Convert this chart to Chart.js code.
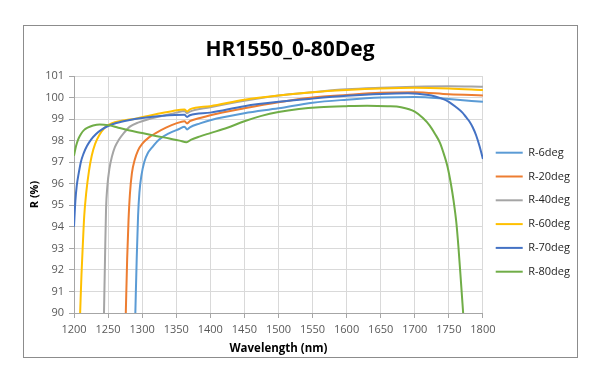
<!DOCTYPE html>
<html>
<head>
<meta charset="utf-8">
<title>HR1550_0-80Deg</title>
<script src="https://cdn.jsdelivr.net/npm/chart.js@4.4.1/dist/chart.umd.min.js"></script>
<style>
  body { margin: 0; background: #fff; }
  #wrap { position: relative; width: 600px; height: 383px; }
  #frame { position: absolute; left: 23px; top: 25px; width: 553px; height: 331px; border: 1px solid #8c8c8c; }
  #chart { position: absolute; left: 0; top: 0; }
</style>
</head>
<body>
<div id="wrap">
  <div id="frame"></div>
  <canvas id="chart" width="600" height="383"></canvas>
</div>
<script>
// data (wavelength nm, R %)
const seriesNames = ['R-6deg', 'R-20deg', 'R-40deg', 'R-60deg', 'R-70deg', 'R-80deg'];
const seriesColors = ['#5B9BD5', '#ED7D31', '#A5A5A5', '#FFC000', '#4472C4', '#70AD47'];

const wl6 = [1290, 1292, 1294, 1296, 1299, 1303, 1308, 1315, 1325, 1340, 1355, 1362, 1366, 1370, 1385, 1400, 1450, 1500, 1550, 1600, 1650, 1700, 1750, 1800];
const r6  = [90, 92.5, 94.5, 95.6, 96.4, 97.0, 97.4, 97.7, 98.05, 98.35, 98.55, 98.65, 98.52, 98.62, 98.8, 98.95, 99.27, 99.5, 99.76, 99.9, 100.0, 100.03, 99.93, 99.8];

const wl20 = [1276, 1278, 1280, 1282, 1285, 1289, 1294, 1300, 1310, 1320, 1335, 1350, 1362, 1366, 1370, 1385, 1400, 1450, 1500, 1550, 1600, 1650, 1700, 1750, 1800];
const r20  = [90, 92.5, 94.3, 95.5, 96.5, 97.1, 97.55, 97.85, 98.15, 98.35, 98.6, 98.8, 98.9, 98.8, 98.9, 99.05, 99.18, 99.5, 99.78, 100.0, 100.12, 100.22, 100.25, 100.15, 100.1];

const wl40 = [1244, 1245.5, 1247, 1249, 1252, 1256, 1260, 1266, 1273, 1282, 1295, 1310, 1330, 1350, 1362, 1366, 1370, 1400, 1450, 1500, 1550, 1600, 1650, 1700, 1750, 1800];
const r40  = [90, 92.5, 94.8, 95.9, 96.7, 97.3, 97.7, 98.05, 98.35, 98.65, 98.85, 99.0, 99.15, 99.3, 99.38, 99.27, 99.35, 99.55, 99.85, 100.1, 100.25, 100.38, 100.45, 100.5, 100.52, 100.5];

const wl60 = [1209, 1211, 1213, 1215, 1218, 1222, 1226, 1231, 1237, 1245, 1255, 1270, 1290, 1320, 1345, 1362, 1366, 1370, 1400, 1450, 1500, 1550, 1600, 1650, 1700, 1750, 1800];
const r60  = [90, 91.8, 93.2, 94.5, 95.6, 96.6, 97.3, 97.85, 98.25, 98.6, 98.8, 98.92, 99.02, 99.22, 99.38, 99.45, 99.35, 99.45, 99.6, 99.9, 100.1, 100.25, 100.35, 100.42, 100.45, 100.42, 100.35];

const wl70 = [1200, 1202, 1204, 1207, 1210, 1214, 1219, 1225, 1232, 1240, 1250, 1262, 1280, 1300, 1330, 1362, 1366, 1370, 1400, 1450, 1500, 1550, 1600, 1650, 1690, 1720, 1730, 1740, 1750, 1760, 1770, 1775, 1780, 1785, 1790, 1795, 1800];
const r70  = [94.0, 95.2, 95.9, 96.5, 97.0, 97.4, 97.75, 98.05, 98.3, 98.5, 98.68, 98.82, 98.95, 99.05, 99.15, 99.2, 99.1, 99.18, 99.3, 99.6, 99.8, 99.95, 100.08, 100.17, 100.2, 100.12, 100.05, 99.95, 99.8, 99.57, 99.3, 99.1, 98.9, 98.62, 98.25, 97.75, 97.15];

const wl80 = [1200, 1203, 1206, 1210, 1215, 1220, 1228, 1238, 1250, 1265, 1280, 1300, 1320, 1340, 1355, 1365, 1372, 1385, 1400, 1425, 1450, 1475, 1500, 1530, 1560, 1600, 1630, 1660, 1680, 1700, 1712, 1722, 1730, 1737, 1743, 1748, 1753, 1757, 1761, 1764, 1767, 1769, 1771];
const r80  = [97.3, 97.75, 98.05, 98.3, 98.5, 98.6, 98.7, 98.75, 98.72, 98.6, 98.48, 98.35, 98.22, 98.1, 98.0, 97.93, 98.05, 98.2, 98.35, 98.6, 98.9, 99.15, 99.33, 99.47, 99.55, 99.6, 99.62, 99.6, 99.55, 99.35, 99.05, 98.7, 98.3, 97.9, 97.35, 96.8, 96.0, 95.2, 94.2, 93.1, 91.8, 90.9, 90.0];

const xs = [wl6, wl20, wl40, wl60, wl70, wl80];
const ys = [r6, r20, r40, r60, r70, r80];

const FONT = "'Open Sans', 'DejaVu Sans', sans-serif";

function toPoints(xArr, yArr) {
    return xArr.map((x, i) => ({ x: x, y: yArr[i] }));
}

const datasets = seriesNames.map((name, i) => ({
    label: name,
    data: toPoints(xs[i], ys[i]),
    borderColor: seriesColors[i],
    backgroundColor: seriesColors[i],
    borderWidth: 2,
    pointRadius: 0,
    cubicInterpolationMode: 'monotone',
    order: seriesNames.length - i   // seri terakhir di atas, seperti Excel
}));

const ctx = document.getElementById('chart');

new Chart(ctx.getContext('2d'), {
    type: 'line',
    data: { datasets: datasets },
    options: {
        responsive: false,
        animation: false,
        layout: { padding: { left: 0, right: 20, top: 0, bottom: 0 } },
        plugins: {
            title: {
                display: true,
                text: 'HR1550_0-80Deg',
                color: '#000',
                font: { family: FONT, size: 21, weight: 'bold' },
                padding: { top: 37.4, bottom: 13.4 }
            },
            legend: {
                position: 'right',
                fullSize: false,
                title: { display: true, text: ' ', padding: 11.1, font: { family: FONT, size: 11 } },
                labels: {
                    usePointStyle: true,
                    pointStyle: 'line',
                    pointStyleWidth: 27,
                    padding: 12.8,
                    color: '#262626',
                    font: { family: FONT, size: 11 },
                    sort: (a, b) => a.datasetIndex - b.datasetIndex
                }
            },
            tooltip: { enabled: false }
        },
        scales: {
            x: {
                type: 'linear',
                min: 1200,
                max: 1800,
                ticks: {
                    stepSize: 50,
                    color: '#595959',
                    padding: 5,
                    maxRotation: 0,
                    font: { family: FONT, size: 11 },
                    callback: (v) => String(v)
                },
                grid: { color: '#D9D9D9', tickColor: '#A6A6A6', tickLength: 5 },
                border: { color: '#A6A6A6' },
                title: {
                    display: true,
                    text: 'Wavelength (nm)',
                    color: '#000',
                    font: { family: FONT, size: 11.5, weight: 'bold' },
                    padding: { top: 0, bottom: 27.4 }
                },
                afterFit: (scale) => { scale.height = 70; }
            },
            y: {
                min: 90,
                max: 101,
                ticks: {
                    stepSize: 1,
                    color: '#595959',
                    padding: 5,
                    font: { family: FONT, size: 11 },
                    callback: (v) => String(v)
                },
                grid: { color: '#D9D9D9', tickColor: '#A6A6A6', tickLength: 5 },
                border: { color: '#A6A6A6' },
                title: {
                    display: true,
                    text: 'R (%)',
                    color: '#000',
                    font: { family: FONT, size: 11, weight: 'bold' },
                    padding: { top: 28.4, bottom: 0 }
                },
                afterFit: (scale) => { scale.width = 74; }
            }
        }
    }
});
</script>
</body>
</html>
